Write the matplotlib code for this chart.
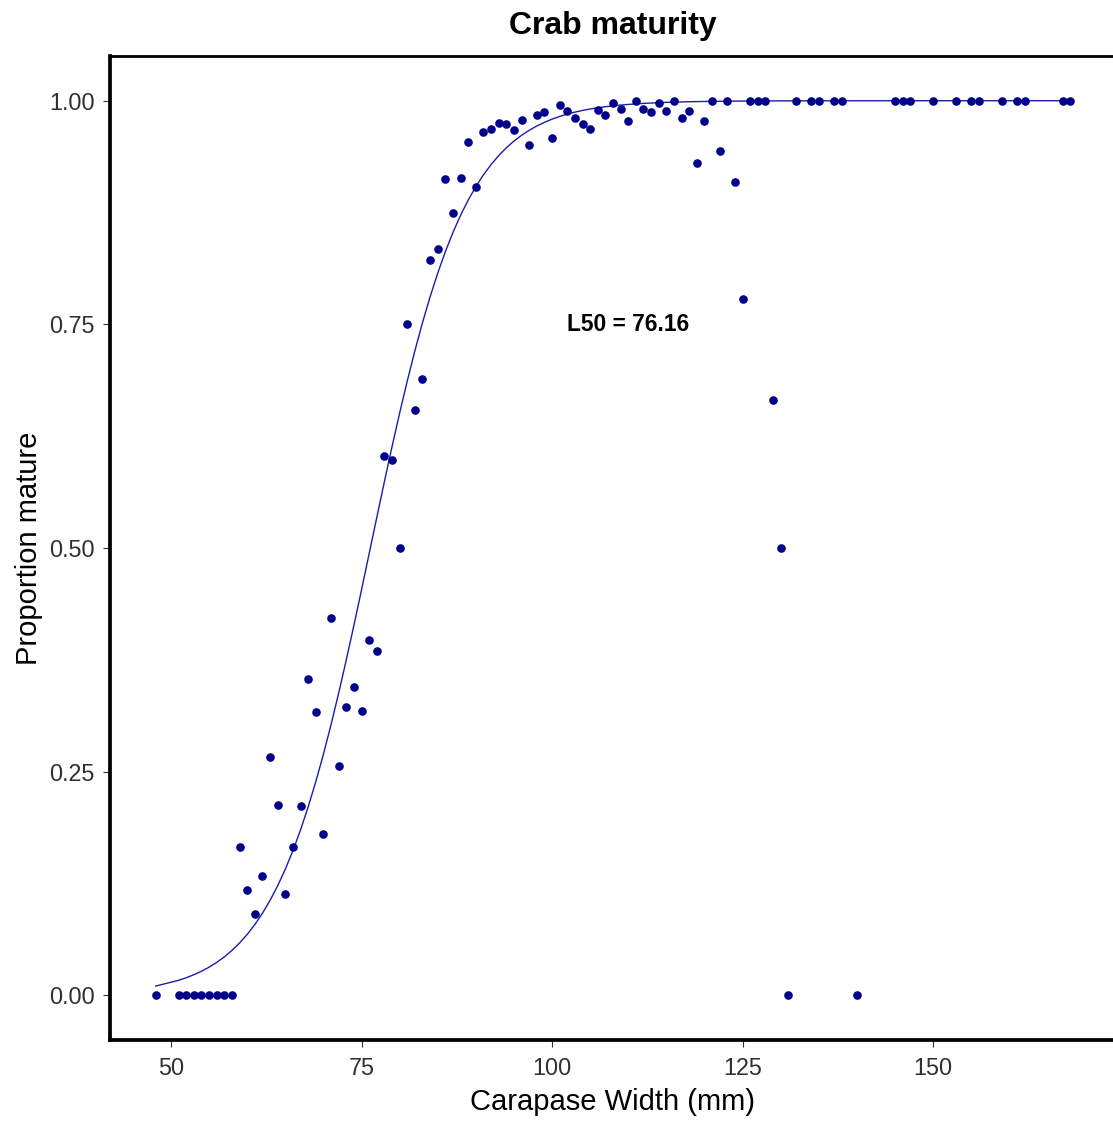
import numpy as np
import matplotlib
matplotlib.use('Agg')

import matplotlib.pyplot as plt

plt.rcParams['font.family'] = ['Liberation Sans', 'DejaVu Sans']

# carapace width classes (mm) and observed proportion mature in each
WIDTH = [48, 51, 52, 53, 54, 55, 56, 57, 58,
         59, 60, 61, 62, 63, 64, 65, 66, 67, 68, 69, 70,
         71, 72, 73, 74, 75, 76, 77, 78, 79, 80,
         81, 82, 83, 84, 85, 86, 87, 88, 89, 90,
         91, 92, 93, 94, 95, 96, 97, 98, 99, 100,
         101, 102, 103, 104, 105, 106, 107, 108, 109, 110,
         111, 112, 113, 114, 115, 116, 117, 118, 119, 120,
         121, 122, 123, 124, 125, 126, 127, 128, 129, 130,
         131, 132, 134, 135, 137, 138, 140, 145, 146, 147,
         150, 153, 155, 156, 159, 161, 162, 167, 168]
PROP_MATURE = [0.0, 0.0, 0.0, 0.0, 0.0, 0.0, 0.0, 0.0, 0.0,
               0.166, 0.118, 0.091, 0.133, 0.266, 0.213, 0.113, 0.166, 0.212, 0.353, 0.317, 0.180,
               0.422, 0.256, 0.322, 0.345, 0.318, 0.397, 0.385, 0.603, 0.598, 0.500,
               0.750, 0.654, 0.689, 0.822, 0.834, 0.913, 0.874, 0.914, 0.954, 0.904,
               0.965, 0.968, 0.975, 0.974, 0.967, 0.979, 0.951, 0.984, 0.987, 0.958,
               0.995, 0.989, 0.981, 0.974, 0.968, 0.990, 0.984, 0.997, 0.991, 0.977,
               1.0, 0.991, 0.987, 0.997, 0.989, 1.0, 0.981, 0.989, 0.930, 0.977,
               1.0, 0.944, 1.0, 0.909, 0.778, 1.0, 1.0, 1.0, 0.666, 0.500,
               0.0, 1.0, 1.0, 1.0, 1.0, 1.0, 0.0, 1.0, 1.0, 1.0,
               1.0, 1.0, 1.0, 1.0, 1.0, 1.0, 1.0, 1.0, 1.0]

# logistic maturity ogive
L50 = 76.16
SLOPE = 0.162

X_TICKS = [50, 75, 100, 125, 150]
Y_TICKS = [0.0, 0.25, 0.5, 0.75, 1.0]

POINT_COL = '#00008B'
LINE_COL = '#1c1ca6'


def ogive(x):
    x = np.asarray(x, dtype=float)
    return 1.0 / (1.0 + np.exp(-SLOPE * (x - L50)))


W, H = 1113, 1122
fig = plt.figure(figsize=(W / 100.0, H / 100.0), dpi=100)
# panel runs a few px past the right edge of the canvas
ax = fig.add_axes([110.0 / W, 1 - 1040.0 / H, 1006.0 / W, 984.0 / H])

xs = np.array(WIDTH, dtype=float)
ax.plot(xs, ogive(xs), '-', color=LINE_COL, lw=1.0, zorder=2)
ax.plot(WIDTH, PROP_MATURE, 'o', color=POINT_COL, ms=6.2, mew=0, zorder=3)

ax.text(110, 0.75, 'L50 = %.2f' % L50, ha='center', va='center',
        fontsize=16.4, fontweight='bold', color='black')

ax.set_xlim(42, 174)
ax.set_ylim(-0.05, 1.05)
ax.set_xticks(X_TICKS)
ax.set_yticks(Y_TICKS)
ax.set_yticklabels(['%.2f' % v for v in Y_TICKS])

ax.tick_params(direction='out', length=5, width=0.8, color='#333333',
               labelcolor='#303030', labelsize=16.8)
ax.tick_params(axis='x', pad=7)
ax.tick_params(axis='y', pad=6)

for side in ['left', 'bottom']:
    ax.spines[side].set_linewidth(2.7)
for side in ['top', 'right']:
    ax.spines[side].set_linewidth(2.0)
for sp in ax.spines.values():
    sp.set_color('black')

ax.set_xlabel('Carapase Width (mm)', fontsize=21, labelpad=6)
ax.set_ylabel('Proportion mature', fontsize=21, labelpad=4)
ax.set_title('Crab maturity', fontsize=23, fontweight='bold', pad=15.5)

fig.savefig('out.png', dpi=100)
